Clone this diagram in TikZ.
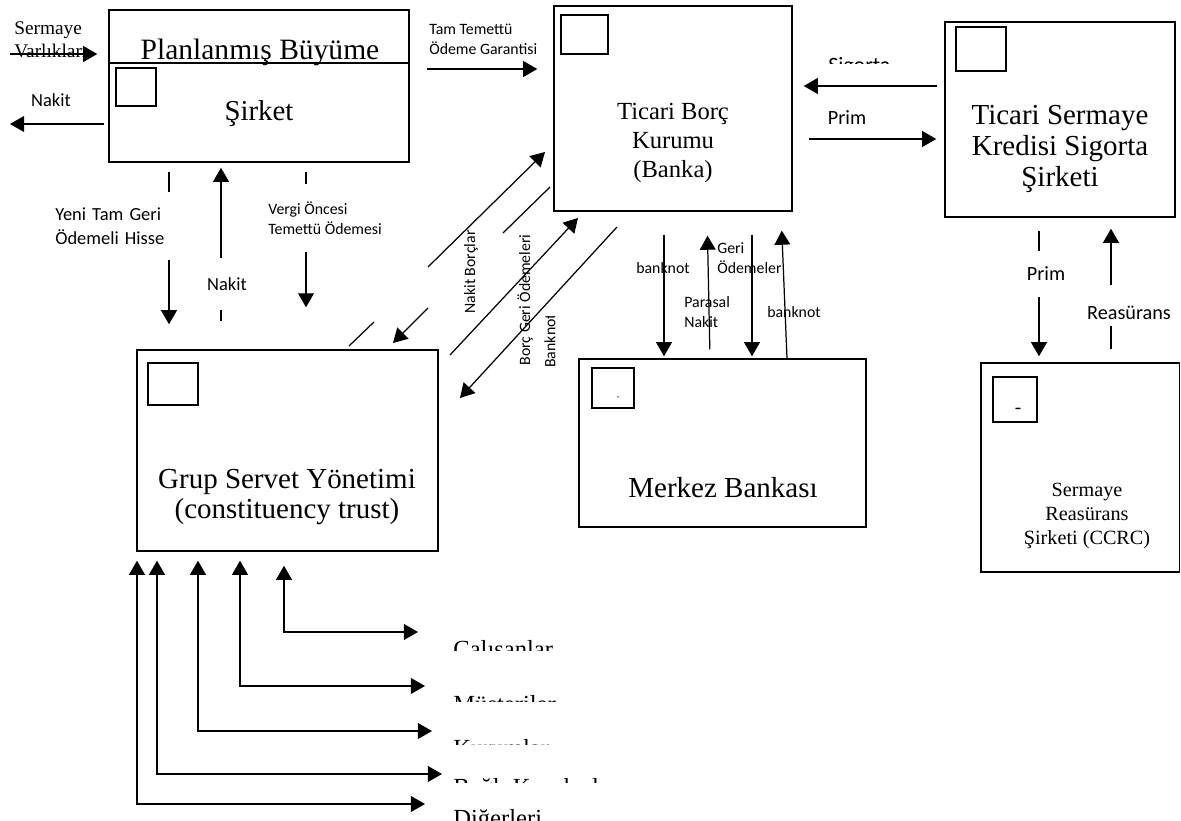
\documentclass[tikz,border=0pt]{standalone}
\usepackage{fontspec}
\setmainfont{Liberation Serif}
\newfontfamily\lblfont{Carlito}
\usetikzlibrary{arrows.meta,fit}
\tikzset{
Kutu/.style={
 draw=black,
 line width=0.8pt,
 inner sep=0pt
 },
Kare/.style={
 draw=black,
 line width=0.7pt,
 inner sep=0pt
 },
Ok/.style={
 line width=0.7pt,
 -{Triangle[length=8pt,width=9pt]}
 },
CiftOk/.style={
 line width=0.7pt,
 {Triangle[length=8pt,width=9pt]}-{Triangle[length=8pt,width=9pt]}
 },
Cizgi/.style={
 line width=0.7pt
 },
Yazi/.style args={#1/#2}{
 font=\fontsize{#1}{#2}\selectfont,
 inner sep=0pt,
 align=center
 },
Etiket/.style args={#1/#2}{
 font=\lblfont\fontsize{#1}{#2}\selectfont,
 inner sep=0pt,
 align=left
 },
Ortu/.style={fill=white}
}

\begin{document}
\begin{tikzpicture}[x=0.02cm,y=-0.02cm]
\useasboundingbox (0,0) rectangle (1181,821);
% kutular
\node[Kutu, fit={(109,10) (409,162)}] (plan) {};
\draw[line width=0.8pt] (plan.west |- 0,63) -- (plan.east |- 0,63);
\node[Kare, fit={(116,68) (156,106)}] (plankare) {};
\node[Yazi=16.8/20, anchor=base] (plantxt) at (260,60) {Planlanmış Büyüme};
\node[Yazi=16.4/20, anchor=base] (sirkettxt) at (259,121) {Şirket};
\node[Kutu, fit={(554,6) (792,211)}] (banka) {};
\node[Kare, fit={(561,15) (608,54)}] (bankakare) {};
\node[Yazi=14/16.5] (bankatxt) at (673,143) {Ticari Borç\\Kurumu\\(Banka)};
\node[Kutu, fit={(945,22) (1175,217)}] (sigorta) {};
\node[Kare, fit={(956,27) (1006,71)}] (sigortakare) {};
\node[Yazi=16.5/17.5] (sigortatxt) at (1060,149) {Ticari Sermaye\\Kredisi Sigorta\\Şirketi};
\node[Kutu, fit={(579,359) (866,527)}] (merkez) {};
\node[Kare, fit={(592,368) (634,408)}] (merkezkare) {};
\node[Yazi=5/6] (merkezcizgi) at (618,398) {-};
\node[Yazi=16.5/20, anchor=base] (merkeztxt) at (723,497) {Merkez Bankası};
\node[Kutu, fit={(137,350) (438,551)}] (grup) {};
\node[Kare, fit={(148,363) (198,405)}] (grupkare) {};
\node[Yazi=16.5/17.2] (gruptxt) at (287,497) {Grup Servet Yönetimi\\(constituency trust)};
\node[Kutu, fit={(981,363) (1179.5,572)}] (ccrc) {};
\node[Kare, fit={(993,377) (1037,422)}] (ccrckare) {};
\node[Yazi=11/12] (ccrccizgi) at (1018,411) {-};
\node[Yazi=11.5/13.5] (ccrctxt) at (1087,516) {Sermaye\\Reasürans\\Şirketi (CCRC)};
% sol ust
\coordinate (sermaye) at (10,54);
\coordinate (nakitsol) at (10,124);
\node[Yazi=11/13, align=left, anchor=west] (sermayetxt) at (14,40) {Sermaye\\Varlıkları};
\draw[Ok, shorten >=0.22cm] (sermaye) -- (plan.west |- sermaye);
\draw[Ok, shorten <=0.08cm] (plan.west |- nakitsol) -- (nakitsol);
\node[Etiket=10.5/13] (nakitsoltxt) at (51,100) {Nakit};
% plan - grup
\draw[Ok, shorten <=0.18cm, shorten >=0.5cm] (plan.south -| 169,0) -- (grup.north -| 169,0);
\draw[Ok, shorten <=0.56cm, shorten >=0.1cm] (grup.north -| 221,0) -- (plan.south -| 221,0);
\draw[Ok, shorten <=0.18cm, shorten >=0.84cm] (plan.south -| 306,0) -- (grup.north -| 306,0);
\node[Etiket=10.5/14, Ortu, anchor=north west, text width=2.3cm, inner xsep=0.1cm, minimum height=1.36cm] (hisse) at (50,192) {Yeni Tam Geri\\Ödemeli Hisse};
\node[Etiket=10.5/13, Ortu, minimum height=1.04cm, minimum width=1cm] (nakitorta) at (227,284) {Nakit};
\node[Etiket=9/11.3, Ortu, anchor=west, minimum height=1.36cm] (vergi) at (268,218) {Vergi Öncesi\\Temettü Ödemesi};
% ust
\draw[Ok, shorten <=0.34cm, shorten >=0.32cm] (plan.east |- 0,69) -- (banka.west |- 0,69);
\node[Etiket=9/11.3, anchor=west] (garanti) at (429,39) {Tam Temettü\\Ödeme Garantisi};
\draw[Ok, shorten <=0.14cm, shorten >=0.22cm] (sigorta.west |- 0,86) -- (banka.east |- 0,86);
\begin{scope}
\clip (820,40) rectangle (900,64);
\node[Etiket=12.5/15, anchor=base west] (sigortalbl) at (828,73) {Sigorta};
\end{scope}
\draw[Ok, shorten <=0.32cm, shorten >=0.16cm] (banka.east |- 0,139) -- (sigorta.west |- 0,139);
\node[Etiket=11.5/14] (primust) at (847,118) {Prim};
% sag
\draw[Ok, shorten <=0.26cm, shorten >=0.12cm] (sigorta.south -| 1039,0) -- (ccrc.north -| 1039,0);
\node[Etiket=11.5/14, Ortu, minimum height=0.94cm] (primsag) at (1046,274) {Prim};
\draw[Ok, shorten <=0.26cm, shorten >=0.22cm] (ccrc.north -| 1111,0) -- (sigorta.south -| 1111,0);
\node[Etiket=11.5/14, Ortu, anchor=base, text height=0.69cm, text depth=0.15cm] (reasurans) at (1129,319) {Reasürans};
% banka - merkez
\node[Etiket=9/11] (banknotsol) at (663,268) {banknot};
\node[Etiket=9/11.3, anchor=west] (geri) at (717,258) {Geri\\Ödemeler};
\node[Etiket=9/11.3, anchor=west] (parasal) at (684,312) {Parasal\\Nakit};
\node[Etiket=9/11] (banknotsag) at (794,312) {banknot};
\draw[Ok, shorten <=0.46cm, shorten >=0.04cm] (banka.south -| 664,0) -- (merkez.north -| 664,0);
\draw[Ok, shorten <=0.18cm, shorten >=0.48cm] (merkez.north -| 710,0) -- (banka.south -| 707,0);
\draw[Ok, shorten <=0.46cm, shorten >=0.04cm] (banka.south -| 752,0) -- (merkez.north -| 752,0);
\draw[Ok, shorten >=0.38cm] (merkez.north -| 787,0) -- (banka.south -| 781,0);
% banka - grup
\node[Etiket=9/11, rotate=90] (nakitborc) at (471,272) {Nakit Borçlar};
\node[Etiket=9/11, rotate=90] (borcgeri) at (525,300) {Borç Geri Ödemeleri};
\begin{scope}
\clip (535,316) rectangle (565,380);
\node[Etiket=9/11, rotate=90, anchor=west] (banknotcapraz) at (550,368) {Banknot};
\end{scope}
\coordinate (nb1) at (349,346);
\coordinate (nb2) at (374,322);
\coordinate (nb3) at (428,267);
\coordinate (nb4) at (545,152);
\coordinate (nk1) at (550,187);
\coordinate (nk2) at (503,233);
\coordinate (nk3) at (428,308);
\coordinate (nk4) at (393,343);
\coordinate (bg1) at (450,355);
\coordinate (bg2) at (578,218);
\coordinate (bn1) at (617,227);
\coordinate (bn2) at (460,398);
\draw[Cizgi] (nb1) -- (nb2);
\draw[Ok] (nb3) -- (nb4);
\draw[Cizgi] (nk1) -- (nk2);
\draw[Ok] (nk3) -- (nk4);
\draw[Ok] (bg1) -- (bg2);
\draw[Ok] (bn1) -- (bn2);
% alt
\coordinate (calisan) at (418,632);
\coordinate (musteri) at (425,686);
\coordinate (kurum) at (432,731);
\coordinate (bagli) at (442,774);
\coordinate (diger) at (425,804);
\draw[CiftOk, shorten <=0.28cm] (grup.south -| 284,0) |- (calisan);
\draw[CiftOk, shorten <=0.18cm] (grup.south -| 240,0) |- (musteri);
\draw[CiftOk, shorten <=0.18cm] (grup.south -| 198,0) |- (kurum);
\draw[CiftOk, shorten <=0.18cm] (grup.south -| 157,0) |- (bagli);
\draw[CiftOk, shorten <=0.18cm] (grup.south -| 137,0) |- (diger);
\begin{scope}
\clip (445,620) rectangle (640,650);
\node[Yazi=14/16, anchor=base west] (calisantxt) at (453,657) {Çalışanlar};
\end{scope}
\begin{scope}
\clip (445,680) rectangle (640,701);
\node[Yazi=14/16, anchor=base west] (musteritxt) at (453,712) {Müşteriler};
\end{scope}
\begin{scope}
\clip (445,725) rectangle (640,744);
\node[Yazi=14/16, anchor=base west] (kurumtxt) at (453,756) {Kurumlar};
\end{scope}
\begin{scope}
\clip (445,765) rectangle (640,782);
\node[Yazi=14/16, anchor=base west] (baglitxt) at (453,795) {Bağlı Kuruluşlar};
\end{scope}
\begin{scope}
\clip (445,795) rectangle (640,821);
\node[Yazi=14/16, anchor=base west] (digertxt) at (453,826) {Diğerleri};
\end{scope}
\end{tikzpicture}
\end{document}
